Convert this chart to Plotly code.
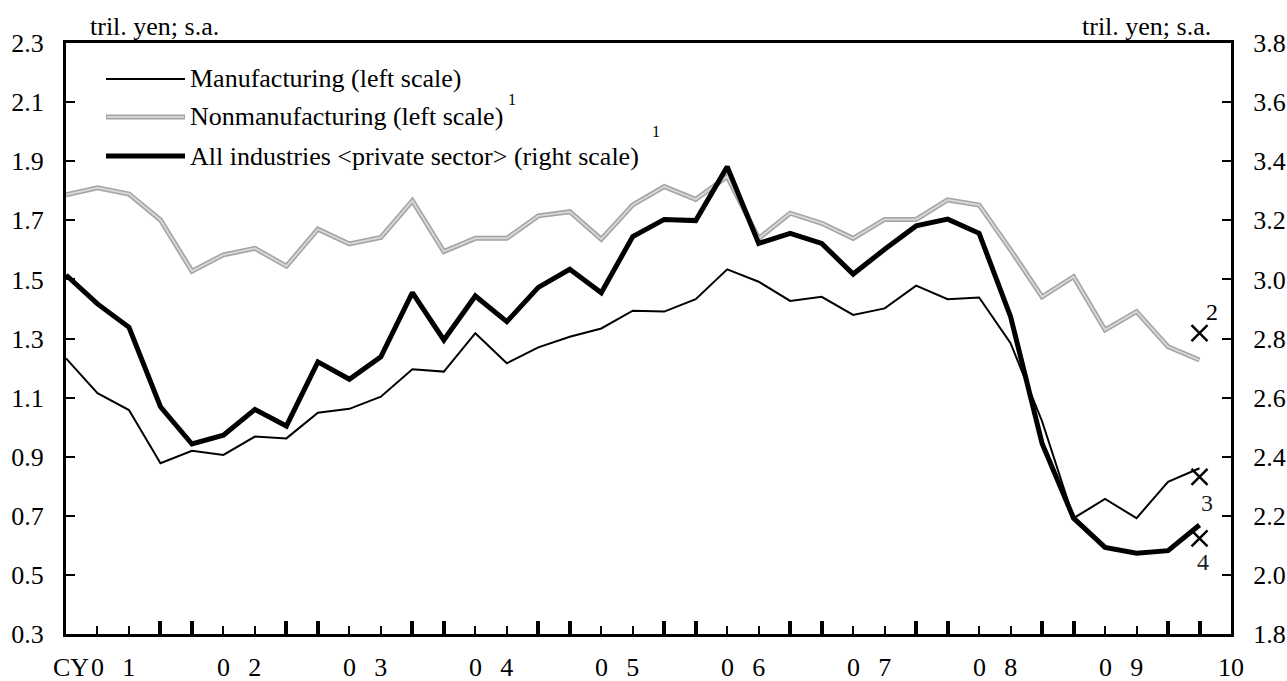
import plotly.graph_objects as go

# ---------------- data (quarterly, CY2001Q1 .. CY2010Q1) ----------------
manufacturing = [1.233, 1.115, 1.058, 0.878, 0.920, 0.906, 0.968, 0.962, 1.049, 1.062,
                 1.103, 1.196, 1.188, 1.318, 1.216, 1.270, 1.306, 1.334, 1.394, 1.391,
                 1.433, 1.534, 1.492, 1.427, 1.441, 1.380, 1.402, 1.479, 1.433, 1.439,
                 1.284, 1.020, 0.692, 0.757, 0.692, 0.815, 0.861]
nonmanufacturing = [1.786, 1.810, 1.789, 1.701, 1.528, 1.583, 1.605, 1.545, 1.670, 1.620,
                    1.642, 1.766, 1.594, 1.639, 1.639, 1.715, 1.729, 1.636, 1.752, 1.814,
                    1.771, 1.848, 1.639, 1.724, 1.690, 1.639, 1.703, 1.703, 1.769, 1.752,
                    1.600, 1.441, 1.509, 1.329, 1.391, 1.272, 1.227]
all_industries = [3.015, 2.917, 2.838, 2.569, 2.443, 2.473, 2.560, 2.504, 2.721, 2.662,
                  2.738, 2.955, 2.795, 2.944, 2.857, 2.973, 3.034, 2.955, 3.145, 3.203,
                  3.199, 3.381, 3.122, 3.156, 3.122, 3.018, 3.102, 3.181, 3.204, 3.156,
                  2.874, 2.445, 2.192, 2.093, 2.073, 2.082, 2.169]

# forecast points (x markers) with their footnote numbers
forecast_manufacturing = 0.832      # note 3 (left scale)
forecast_nonmanufacturing = 1.318   # note 2 (left scale)
forecast_all = 2.124                # note 4 (right scale)

year_labels = ["0\u00a0\u00a0\u20091", "0\u00a0\u00a0\u20092", "0\u00a0\u00a0\u20093",
               "0\u00a0\u00a0\u20094", "0\u00a0\u00a0\u20095", "0\u00a0\u00a0\u20096",
               "0\u00a0\u00a0\u20097", "0\u00a0\u00a0\u20098", "0\u00a0\u00a0\u20099", "10"]
legend_labels = ["Manufacturing (left scale)",
                 "Nonmanufacturing (left scale)",
                 "All industries <private sector> (right scale)"]

n = len(manufacturing)
x = list(range(n))
last = n - 1

FONT = "Liberation Serif, Times New Roman, serif"
GREY_OUT = "#a3a3a3"
GREY_IN = "#d6d6d6"

fig = go.Figure()

# Nonmanufacturing: textured grey line (outer + inner)
fig.add_trace(go.Scatter(x=x, y=nonmanufacturing, mode="lines",
                         line=dict(color=GREY_OUT, width=5), showlegend=False,
                         hoverinfo="skip"))
fig.add_trace(go.Scatter(x=x, y=nonmanufacturing, mode="lines",
                         line=dict(color=GREY_IN, width=2), showlegend=False,
                         name="Nonmanufacturing"))
# Manufacturing
fig.add_trace(go.Scatter(x=x, y=manufacturing, mode="lines",
                         line=dict(color="black", width=2), showlegend=False,
                         name="Manufacturing"))
# forecast markers on left scale
fig.add_trace(go.Scatter(x=[last, last], y=[forecast_nonmanufacturing, forecast_manufacturing],
                         mode="markers", showlegend=False,
                         marker=dict(symbol="x-thin", size=16, color="black",
                                     line=dict(width=2.5, color="black"))))
# All industries on right scale
fig.add_trace(go.Scatter(x=x, y=all_industries, mode="lines", yaxis="y2",
                         line=dict(color="black", width=5), showlegend=False,
                         name="All industries"))
fig.add_trace(go.Scatter(x=[last], y=[forecast_all], mode="markers", yaxis="y2",
                         showlegend=False,
                         marker=dict(symbol="x-thin", size=16, color="black",
                                     line=dict(width=2.5, color="black"))))

# major ticks at Q1 and Q4 of each year
major_ticks = sorted([i for i in range(n) if i % 4 == 0] + [i for i in range(n) if i % 4 == 3])

fig.update_layout(
    width=1287, height=681,
    margin=dict(l=66, r=56, t=43, b=47, autoexpand=False),
    paper_bgcolor="white", plot_bgcolor="white",
    font=dict(family=FONT, size=26, color="black"),
    showlegend=False,
    xaxis=dict(range=[0, n], showgrid=False, zeroline=False,
               showline=True, linecolor="black", linewidth=3, mirror=True,
               ticks="inside", tickmode="array", tickvals=major_ticks,
               ticklen=13, tickwidth=4, tickcolor="black", showticklabels=False,
               minor=dict(ticks="inside", tick0=0, dtick=1, ticklen=8, tickwidth=2,
                          tickcolor="black", showgrid=False)),
    yaxis=dict(range=[0.3, 2.3], tick0=0.3, dtick=0.2, tickformat=".1f",
               showgrid=False, zeroline=False, showline=True, linecolor="black",
               linewidth=3, ticks="inside", ticklen=9, tickwidth=2, tickcolor="black",
               ticklabelstandoff=14),
    yaxis2=dict(range=[1.8, 3.8], tick0=1.8, dtick=0.2, tickformat=".1f",
                overlaying="y", side="right",
                showgrid=False, zeroline=False, showline=True, linecolor="black",
                linewidth=3, ticks="inside", ticklen=9, tickwidth=2, tickcolor="black",
                ticklabelstandoff=14),
)

ann = []
# unit labels
ann.append(dict(text="tril. yen; s.a.", xref="paper", yref="paper", x=0.0185, y=1.0,
                xanchor="left", yanchor="bottom", showarrow=False, yshift=0))
ann.append(dict(text="tril. yen; s.a.", xref="paper", yref="paper", x=0.9845, y=1.0,
                xanchor="right", yanchor="bottom", showarrow=False))
# year labels
for k, lab in enumerate(year_labels):
    pos = 4 * k + 1.5 if k < len(year_labels) - 1 else n
    ann.append(dict(text=lab, xref="x", yref="paper", x=pos, y=-0.0575,
                    xanchor="center", yanchor="middle", showarrow=False))
ann.append(dict(text="CY", xref="x", yref="paper", x=0.8, y=-0.0575,
                xanchor="right", yanchor="middle", showarrow=False))
# footnote numbers next to forecast markers
ann.append(dict(text="2", xref="x", yref="y", x=last, y=forecast_nonmanufacturing,
                xshift=12, yshift=21, showarrow=False, font=dict(size=24)))
ann.append(dict(text="3", xref="x", yref="y", x=last, y=forecast_manufacturing,
                xshift=7, yshift=-26, showarrow=False, font=dict(size=24, color="#222")))
ann.append(dict(text="4", xref="x", yref="y2", x=last, y=forecast_all,
                xshift=3, yshift=-24, showarrow=False, font=dict(size=24, color="#222")))

# manual legend
W, H = 1165.0, 591.0
def px(xp):
    return (xp - 66) / W
def py(yp):
    return (634 - yp) / H

legend_rows = [79, 117, 156]
shapes = []
shapes.append(dict(type="line", xref="paper", yref="paper", x0=px(106), x1=px(185),
                   y0=py(legend_rows[0]), y1=py(legend_rows[0]),
                   line=dict(color="black", width=2)))
shapes.append(dict(type="line", xref="paper", yref="paper", x0=px(106), x1=px(185),
                   y0=py(legend_rows[1]), y1=py(legend_rows[1]),
                   line=dict(color=GREY_OUT, width=5)))
shapes.append(dict(type="line", xref="paper", yref="paper", x0=px(107), x1=px(184),
                   y0=py(legend_rows[1]), y1=py(legend_rows[1]),
                   line=dict(color=GREY_IN, width=2)))
shapes.append(dict(type="line", xref="paper", yref="paper", x0=px(106), x1=px(185),
                   y0=py(legend_rows[2]), y1=py(legend_rows[2]),
                   line=dict(color="black", width=5)))
for lab, yr in zip(legend_labels, legend_rows):
    ann.append(dict(text=lab.replace("<", "&lt;").replace(">", "&gt;"),
                    xref="paper", yref="paper", x=px(188), y=py(yr),
                    xanchor="left", yanchor="middle", showarrow=False))
ann.append(dict(text="1", xref="paper", yref="paper", x=px(512), y=py(100),
                xanchor="center", yanchor="middle", showarrow=False, font=dict(size=16)))
ann.append(dict(text="1", xref="paper", yref="paper", x=px(656), y=py(131),
                xanchor="center", yanchor="middle", showarrow=False, font=dict(size=16)))

fig.update_layout(annotations=ann, shapes=shapes)

fig.write_html("out.html", config={"displayModeBar": False},
               post_script="document.body.style.margin='0';document.body.style.padding='0';")
